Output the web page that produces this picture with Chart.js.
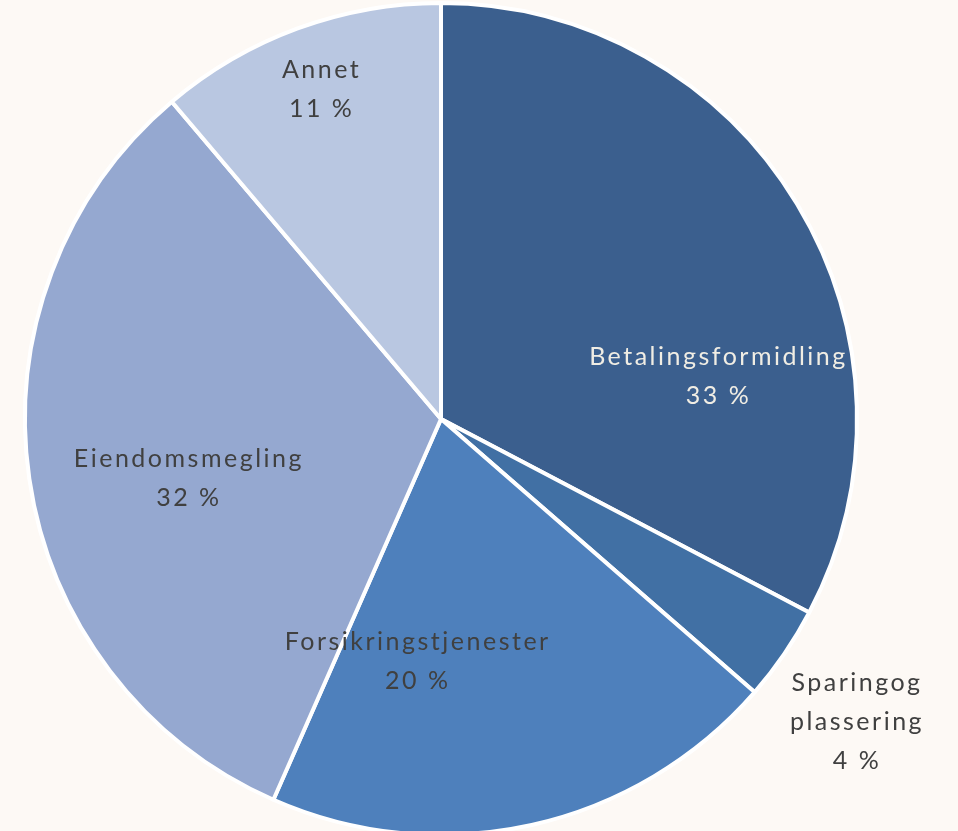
<!DOCTYPE html>
<html>
<head>
<meta charset="utf-8">
<script src="https://cdn.jsdelivr.net/npm/chart.js@4/dist/chart.umd.min.js"></script>
<style>
  html, body { margin: 0; padding: 0; background: #fdf9f5; overflow: hidden; }
  #wrap { width: 958px; height: 840px; }
</style>
</head>
<body>
<div id="wrap"><canvas id="c"></canvas></div>
<script>
const categories = ['Betalingsformidling', 'Sparing og plassering', 'Forsikringstjenester', 'Eiendomsmegling', 'Annet']
const labelLines = [['Betalingsformidling'], ['Sparingog', 'plassering'], ['Forsikringstjenester'], ['Eiendomsmegling'], ['Annet']]
const shares = [32.7, 3.7, 20.2, 32.2, 11.2]
const percentLabels = ['33 %', '4 %', '20 %', '32 %', '11 %']
const sliceColors = ['#3b5f8e', '#4170a4', '#4e80bc', '#95a8d0', '#b9c7e1']

// label anchor relative to pie centre, in units of the radius
const labelOffsets = [[0.667, -0.103], [1.0, 0.728], [-0.056, 0.583], [-0.606, 0.144], [-0.287, -0.793]]
const labelColors = ['#f0ede4', '#404040', '#404040', '#404040', '#404040']

const sliceLabels = {
  id: 'sliceLabels',
  afterDatasetsDraw: (chart) => {
    const { ctx } = chart
    const arcs = chart.getDatasetMeta(0).data
    ctx.save()
    ctx.font = '25px Lato, "Open Sans", sans-serif'
    ctx.textAlign = 'center'
    ctx.textBaseline = 'middle'
    ctx.letterSpacing = '2.5px'
    arcs.forEach((arc, i) => {
      const r = arc.outerRadius
      const cx = arc.x + labelOffsets[i][0] * r
      const cy = arc.y + labelOffsets[i][1] * r
      const lines = [...labelLines[i], percentLabels[i]]
      const lh = 39
      const top = cy - ((lines.length - 1) * lh) / 2
      ctx.fillStyle = labelColors[i]
      lines.forEach((t, j) => ctx.fillText(t, cx, top + j * lh))
    })
    ctx.restore()
  },
}

new Chart(document.getElementById('c'), {
  type: 'pie',
  data: {
    labels: categories,
    datasets: [{
      data: shares,
      backgroundColor: sliceColors,
      borderColor: '#ffffff',
      borderWidth: 4,
    }],
  },
  options: {
    responsive: true,
    maintainAspectRatio: false,
    animation: false,
    layout: { padding: { left: 23, right: 99, top: 1, bottom: 3 } },
    plugins: {
      legend: { display: false },
      tooltip: { enabled: false },
    },
  },
  plugins: [sliceLabels],
})
</script>
</body>
</html>
